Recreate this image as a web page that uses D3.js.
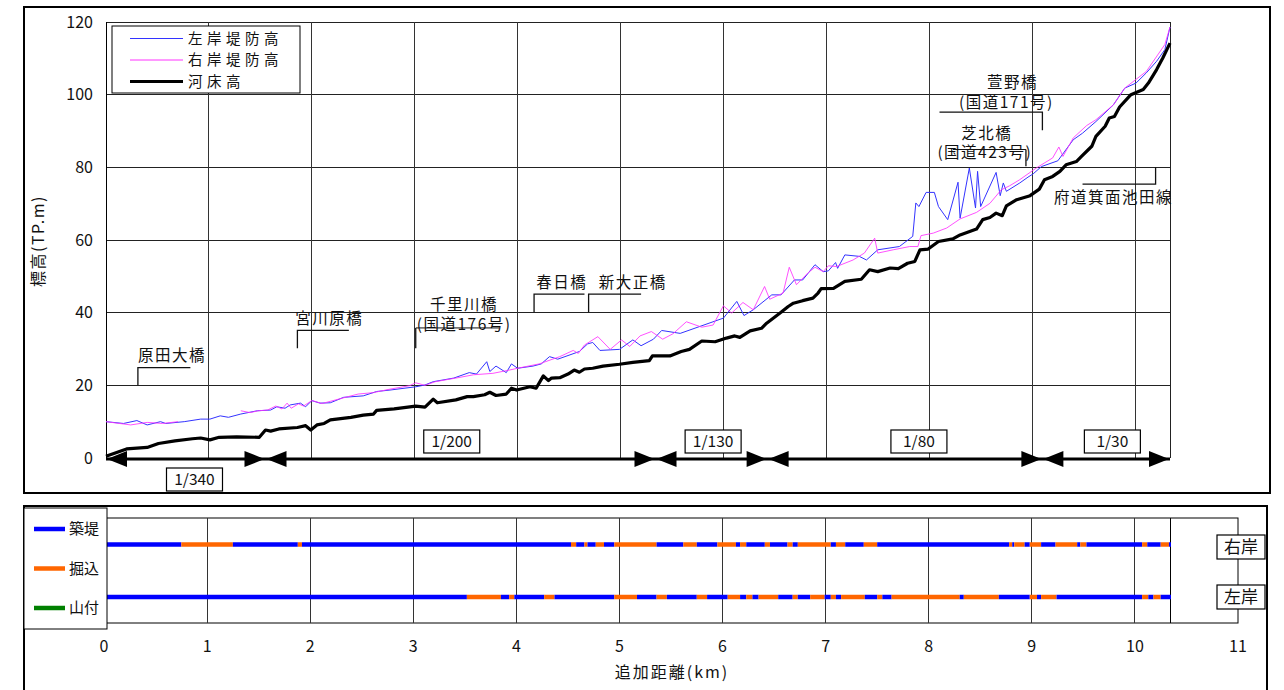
<!DOCTYPE html>
<html><head><meta charset="utf-8">
<script src="https://cdn.jsdelivr.net/npm/d3@7"></script>
<style>
html,body{margin:0;padding:0;background:#fff;}
text{font-family:"Noto Sans CJK JP","Noto Sans",sans-serif;fill:#111;}
</style></head>
<body>
<svg id="c" width="1284" height="690"></svg>
<script>
// ---------------- DATA ----------------
const riverbed = [[0,0.5],[0.2,2.5],[0.4,2.9],[0.51,4.0],[0.67,4.7],[0.84,5.3],[0.92,5.5],[1.01,5.0],[1.1,5.7],[1.27,5.8],[1.49,5.7],[1.55,7.7],[1.6,7.4],[1.68,8.0],[1.86,8.4],[1.94,8.9],[1.99,7.7],[2.05,9.1],[2.12,9.5],[2.18,10.5],[2.38,11.2],[2.5,11.8],[2.6,12.1],[2.63,13.1],[2.8,13.5],[3.01,14.3],[3.1,14.0],[3.18,16.2],[3.22,15.2],[3.4,16.0],[3.51,16.9],[3.57,16.9],[3.68,17.4],[3.73,18.1],[3.79,17.2],[3.89,17.6],[3.94,19.2],[3.99,18.7],[4.12,19.6],[4.18,19.2],[4.25,22.6],[4.3,21.3],[4.33,22.0],[4.41,22.1],[4.49,23.1],[4.55,24.2],[4.6,23.6],[4.65,24.5],[4.73,24.7],[4.83,25.3],[4.99,25.8],[5.12,26.3],[5.28,26.8],[5.31,28.1],[5.48,28.1],[5.59,29.3],[5.67,29.9],[5.79,32.2],[5.92,32.0],[6.03,33.0],[6.11,33.6],[6.16,33.2],[6.26,35.0],[6.37,35.7],[6.42,37.1],[6.56,40.1],[6.63,41.7],[6.68,42.6],[6.77,43.3],[6.87,44.0],[6.92,45.4],[6.95,46.6],[7.07,46.7],[7.18,48.6],[7.34,49.2],[7.42,51.8],[7.5,51.3],[7.62,52.3],[7.7,52.1],[7.79,53.6],[7.86,54.1],[7.91,57.3],[7.99,57.5],[8.09,59.6],[8.23,60.3],[8.3,61.4],[8.38,62.2],[8.46,63.0],[8.52,65.6],[8.59,66.2],[8.65,67.4],[8.71,66.7],[8.75,69.4],[8.85,71.1],[8.98,72.2],[9.07,74.0],[9.12,76.6],[9.2,77.5],[9.27,78.9],[9.33,80.7],[9.43,81.6],[9.48,83.0],[9.58,85.8],[9.62,88.5],[9.71,91.3],[9.75,93.6],[9.8,94.0],[9.85,96.6],[9.96,100.0],[10.08,101.4],[10.13,103.2],[10.21,106.9],[10.27,110.1],[10.34,114.2]];

const leftLevee = [[0,10.0],[0.17,9.5],[0.3,10.3],[0.4,9.1],[0.53,10.0],[0.58,9.5],[0.76,10.0],[0.92,10.7],[1.01,10.7],[1.11,11.6],[1.19,11.2],[1.31,12.1],[1.47,13.0],[1.6,13.2],[1.66,14.1],[1.74,13.7],[1.79,14.6],[1.89,15.1],[1.94,14.1],[2.0,15.8],[2.08,15.1],[2.18,15.2],[2.31,16.7],[2.5,17.1],[2.63,18.3],[2.76,18.7],[3.01,19.6],[3.1,20.1],[3.18,21.0],[3.38,22.0],[3.53,23.5],[3.6,23.1],[3.7,26.5],[3.73,23.8],[3.79,25.3],[3.89,23.5],[3.94,25.9],[4.0,24.7],[4.15,25.3],[4.23,25.9],[4.31,27.9],[4.39,27.2],[4.6,29.3],[4.68,31.4],[4.73,31.8],[4.8,29.6],[4.99,29.9],[5.12,32.5],[5.2,30.9],[5.32,32.7],[5.4,35.1],[5.58,34.3],[6.0,38.5],[6.13,43.1],[6.2,39.2],[6.29,40.8],[6.47,44.9],[6.56,44.9],[6.69,49.0],[6.77,49.0],[6.89,53.2],[6.97,51.3],[7.02,51.5],[7.09,53.8],[7.11,52.2],[7.18,55.9],[7.32,55.5],[7.39,54.5],[7.5,57.3],[7.71,58.2],[7.84,61.0],[7.87,70.2],[7.9,69.2],[7.97,73.1],[8.05,73.1],[8.09,69.2],[8.18,65.6],[8.28,75.9],[8.3,66.0],[8.39,79.8],[8.45,68.8],[8.47,78.9],[8.5,69.2],[8.65,78.6],[8.69,72.2],[8.72,75.7],[8.75,73.4],[8.88,75.7],[8.96,77.3],[9.01,78.2],[9.09,80.2],[9.25,81.8],[9.4,87.6],[9.49,89.4],[9.62,92.6],[9.79,97.2],[9.9,101.8],[10.01,103.2],[10.11,106.0],[10.21,109.2],[10.29,112.4],[10.34,118.6]];

const rightLevee = [[0,10.0],[0.24,9.1],[0.4,9.8],[0.55,9.5],[0.7,10.0],[0.72,null],[1.31,13.0],[1.4,12.5],[1.48,13.0],[1.57,13.2],[1.65,14.3],[1.71,13.5],[1.76,15.1],[1.8,13.7],[1.87,14.9],[1.92,14.3],[2.0,15.8],[2.1,15.0],[2.3,16.5],[2.45,17.6],[2.6,18.0],[2.75,18.9],[2.95,19.9],[3.01,20.7],[3.1,20.0],[3.2,21.0],[3.44,22.2],[3.57,22.9],[3.76,23.3],[3.92,24.2],[4.0,24.7],[4.21,25.9],[4.41,27.9],[4.54,29.6],[4.59,28.8],[4.65,31.1],[4.78,33.4],[4.9,29.9],[5.01,32.5],[5.09,30.7],[5.19,33.6],[5.3,34.8],[5.41,32.7],[5.51,34.2],[5.64,37.5],[5.79,36.0],[5.9,36.6],[6.0,41.9],[6.08,39.9],[6.19,42.8],[6.29,40.8],[6.4,47.2],[6.45,43.7],[6.58,45.4],[6.64,52.5],[6.71,47.7],[6.82,50.9],[6.89,52.5],[6.97,51.3],[7.02,52.9],[7.1,52.7],[7.26,54.5],[7.37,56.4],[7.47,60.5],[7.5,56.4],[7.65,57.3],[7.81,58.2],[7.89,58.2],[7.92,61.2],[8.04,61.9],[8.17,63.3],[8.3,65.8],[8.46,67.6],[8.59,70.1],[8.7,73.8],[8.78,74.9],[8.88,76.6],[9.04,79.8],[9.2,82.6],[9.26,85.6],[9.3,83.0],[9.4,88.1],[9.53,91.5],[9.62,93.1],[9.79,97.2],[9.9,101.8],[10.11,106.4],[10.29,113.8],[10.34,118.6]];

const seriesNames = ["左岸堤防高","右岸堤防高","河床高"];
const yTicks = [0,20,40,60,80,100,120];
const xTicks = [0,1,2,3,4,5,6,7,8,9,10,11];

const bridgeNames = ["原田大橋","宮川原橋","千里川橋","春日橋","新大正橋","芝北橋","萱野橋","府道箕面池田線"];
const bridgeSub = ["","","(国道176号)","","","(国道423号)","(国道171号)",""];

const gradientBreaks = [0,1.55,5.34,6.43,9.1,10.34];
const gradientLabels = ["1/340","1/200","1/130","1/80","1/30"];

const typeNames = ["築堤","掘込","山付"];
const rightBounds = [0,0.75,1.25,1.88,1.92,4.53,4.58,4.66,4.69,4.77,4.85,4.95,5.36,5.62,5.75,5.95,6.13,6.17,6.23,6.41,6.46,6.63,6.68,6.73,7.05,7.10,7.19,7.37,7.50,8.78,8.81,8.83,8.93,8.98,9.09,9.23,9.44,9.47,9.53,10.07,10.12,10.25,10.33,10.35];
const rightTypes  = ["築堤","掘込","築堤","掘込","築堤","掘込","築堤","掘込","築堤","掘込","築堤","掘込","築堤","掘込","築堤","掘込","築堤","掘込","築堤","掘込","築堤","掘込","築堤","掘込","築堤","掘込","築堤","掘込","築堤","掘込","築堤","掘込","築堤","掘込","築堤","掘込","築堤","掘込","築堤","掘込","築堤","掘込","築堤"];
const leftBounds = [0,3.52,3.85,3.93,3.98,4.27,4.37,4.95,5.17,5.36,5.46,5.75,5.85,6.05,6.17,6.23,6.29,6.35,6.54,6.68,6.73,6.85,6.99,7.05,7.10,7.15,7.38,7.50,7.55,7.64,8.30,8.34,8.68,8.98,9.05,9.09,9.24,10.07,10.13,10.18,10.25,10.35];
const leftTypes  = ["築堤","掘込","築堤","掘込","築堤","掘込","築堤","掘込","築堤","掘込","築堤","掘込","築堤","掘込","築堤","掘込","築堤","掘込","築堤","掘込","築堤","掘込","築堤","掘込","築堤","掘込","築堤","掘込","築堤","掘込","築堤","掘込","築堤","掘込","築堤","掘込","築堤","掘込","築堤","掘込","築堤"];

// ---------------- DRAW ----------------
const svg = d3.select("#c");
const x = d3.scaleLinear().domain([0,10.34]).range([106,1170]);
const y = d3.scaleLinear().domain([0,120]).range([458,22]);
const xb = d3.scaleLinear().domain([0,11]).range([104,1238]);
const typeColor = d3.scaleOrdinal().domain(typeNames).range(["#0000ff","#ff6600","#008000"]);
const seriesColor = d3.scaleOrdinal().domain(seriesNames).range(["#3333ff","#ff33ff","#000000"]);

// outer frames
svg.append("rect").attr("x",24).attr("y",7).attr("width",1246).attr("height",486).attr("fill","none").attr("stroke","#000").attr("stroke-width",2);
svg.append("rect").attr("x",24).attr("y",506).attr("width",1243).attr("height",190).attr("fill","none").attr("stroke","#000").attr("stroke-width",2);

// top grid
const g = svg.append("g");
g.selectAll("line.h").data(yTicks).join("line")
  .attr("x1",x(0)).attr("x2",x(10.34)).attr("y1",d=>y(d)).attr("y2",d=>y(d))
  .attr("stroke","#222").attr("stroke-width",1).attr("shape-rendering","crispEdges");
g.selectAll("line.v").data(d3.range(0,11)).join("line")
  .attr("x1",d=>x(d)).attr("x2",d=>x(d)).attr("y1",y(0)).attr("y2",y(120))
  .attr("stroke",d=>d===0?"#000":"#333").attr("stroke-width",1).attr("shape-rendering","crispEdges");
g.append("line").attr("x1",x(10.34)).attr("x2",x(10.34)).attr("y1",y(0)).attr("y2",y(120)).attr("stroke","#222").attr("shape-rendering","crispEdges");

// y axis labels
g.selectAll("text.yt").data(yTicks).join("text")
  .attr("x",93).attr("y",d=>y(d)).attr("dy","0.35em").attr("text-anchor","end")
  .style("font-size","16px").text(d=>d);
svg.append("text").attr("transform","translate(44,241) rotate(-90)").attr("text-anchor","middle")
  .style("font-size","16px").style("letter-spacing","1.5px").text("標高(TP.m)");

// series
const line = d3.line().defined(d=>d[1]!==null).x(d=>x(d[0])).y(d=>y(d[1]));
g.append("path").datum(leftLevee).attr("d",line).attr("fill","none").attr("stroke",seriesColor("左岸堤防高")).attr("stroke-width",1);
g.append("path").datum(rightLevee).attr("d",line).attr("fill","none").attr("stroke",seriesColor("右岸堤防高")).attr("stroke-width",1).attr("stroke-opacity",0.85);
g.append("path").datum(riverbed).attr("d",line).attr("fill","none").attr("stroke","#000").attr("stroke-width",3.2).attr("stroke-linejoin","round");

// legend top
const lg = svg.append("g");
lg.append("rect").attr("x",112).attr("y",26).attr("width",188).attr("height",67).attr("fill","#fff").attr("stroke","#000").attr("stroke-width",1);
seriesNames.forEach((n,i)=>{
  const yy = 38.5 + i*21.5;
  lg.append("line").attr("x1",130).attr("x2",183).attr("y1",yy).attr("y2",yy)
    .attr("stroke",seriesColor(n)).attr("stroke-width",i===2?3:1);
  lg.append("text").attr("x",188).attr("y",yy).attr("dy","0.36em")
    .style("font-size","14.5px").style("letter-spacing","4.5px").text(n);
});

// bridge annotations
const ann = svg.append("g").attr("stroke","#111").attr("fill","none").attr("stroke-width",1.3);
function leader(pts){ ann.append("path").attr("d",d3.line().x(p=>x(p[0])).y(p=>y(p[1]))(pts)); }
function label(km,v,t,anchor){
  svg.append("text").attr("x",x(km)).attr("y",y(v)).attr("text-anchor",anchor||"start")
    .style("font-size","15.5px").style("letter-spacing","1.5px").text(t);
}
function underline(k1,k2,v){
  svg.append("line").attr("x1",x(k1)).attr("x2",x(k2)).attr("y1",y(v)).attr("y2",y(v)).attr("stroke","#111").attr("stroke-width",1);
}
// 原田大橋
leader([[0.31,20],[0.31,24.9],[0.82,24.9]]); label(0.31,26.6,bridgeNames[0]);
// 宮川原橋
leader([[1.86,30.2],[1.86,35.1],[2.36,35.1]]); label(1.84,36.8,bridgeNames[1]);
// 千里川橋
leader([[3.01,30.2],[3.01,35.8]]);
label(3.48,40.6,bridgeNames[2],"middle"); label(3.48,35.2,bridgeSub[2],"middle");
underline(3.01,3.82,35.8);
// 春日橋 / 新大正橋
leader([[4.16,40.1],[4.16,45.1],[4.65,45.1]]); label(4.43,46.9,bridgeNames[3],"middle");
leader([[4.69,40.1],[4.69,45.1],[5.2,45.1]]); label(5.12,46.9,bridgeNames[4],"middle");
// 芝北橋
leader([[8.94,80.3],[8.94,84.9]]);
label(8.56,87.9,bridgeNames[5],"middle"); label(8.54,82.5,bridgeSub[5],"middle");
underline(8.23,8.94,84.9);
// 萱野橋
leader([[8.1,95.2],[9.1,95.2],[9.1,90.2]]);
label(8.81,101.8,bridgeNames[6],"middle"); label(8.75,96.4,bridgeSub[6],"middle");
// 府道箕面池田線
leader([[9.49,75.4],[10.2,75.4],[10.2,80.1]]);
label(9.79,70.1,bridgeNames[7],"middle");

// gradient arrows
const ar = svg.append("g");
const ay = y(0)+1;
ar.append("line").attr("x1",x(0)).attr("x2",x(10.34)).attr("y1",ay).attr("y2",ay).attr("stroke","#000").attr("stroke-width",3);
const labelKm = [0.86,3.36,5.9,7.9,9.78];
gradientLabels.forEach((t,i)=>{
  const a = x(gradientBreaks[i]), b = x(gradientBreaks[i+1]);
  ar.append("path").attr("d",`M${a+1},${ay} L${a+21},${ay-8} L${a+21},${ay+8} Z`).attr("fill","#000");
  ar.append("path").attr("d",`M${b-1},${ay} L${b-21},${ay-8} L${b-21},${ay+8} Z`).attr("fill","#000");
  const cx = x(labelKm[i]);
  const cy = i===0 ? 479 : 441;
  ar.append("rect").attr("x",cx-28).attr("y",cy-11).attr("width",56).attr("height",23).attr("fill","#fff").attr("stroke","#000").attr("stroke-width",1.2);
  ar.append("text").attr("x",cx).attr("y",cy).attr("dy","0.36em").attr("text-anchor","middle").style("font-size","15.5px").text(t);
});

// ---------------- bottom panel ----------------
const bg = svg.append("g");
bg.append("rect").attr("x",xb(0)).attr("y",518).attr("width",xb(11)-xb(0)).attr("height",105).attr("fill","none").attr("stroke","#000").attr("stroke-width",1);
bg.selectAll("line.v").data(d3.range(1,11)).join("line")
  .attr("x1",d=>xb(d)).attr("x2",d=>xb(d)).attr("y1",518).attr("y2",623).attr("stroke","#333").attr("shape-rendering","crispEdges");
bg.append("line").attr("x1",xb(10.35)).attr("x2",xb(10.35)).attr("y1",518).attr("y2",623).attr("stroke","#000").attr("shape-rendering","crispEdges");

function bank(bounds,types,yy){
  const segs = types.map((t,i)=>({a:bounds[i],b:bounds[i+1],t}));
  bg.append("g").selectAll("line").data(segs).join("line")
    .attr("x1",d=>xb(d.a)).attr("x2",d=>xb(d.b)).attr("y1",yy).attr("y2",yy)
    .attr("stroke",d=>typeColor(d.t)).attr("stroke-width",4.5);
}
bank(rightBounds,rightTypes,544.5);
bank(leftBounds,leftTypes,597);

bg.selectAll("text.xt").data(xTicks).join("text")
  .attr("x",d=>xb(d)).attr("y",646).attr("text-anchor","middle").attr("dy","0.35em").style("font-size","16px").text(d=>d);
svg.append("text").attr("x",672).attr("y",672).attr("text-anchor","middle").attr("dy","0.35em")
  .style("font-size","16px").style("letter-spacing","2px").text("追加距離(km)");

// bank labels
[["右岸",547],["左岸",597]].forEach(([t,cy])=>{
  bg.append("rect").attr("x",1217).attr("y",cy-12).attr("width",48).attr("height",24).attr("fill","#fff").attr("stroke","#000").attr("stroke-width",1.2);
  bg.append("text").attr("x",1241).attr("y",cy).attr("dy","0.36em").attr("text-anchor","middle").style("font-size","17px").text(t);
});

// bottom legend
const bl = svg.append("g");
bl.append("rect").attr("x",24).attr("y",508).attr("width",83).attr("height",121).attr("fill","#fff").attr("stroke","#000").attr("stroke-width",1);
typeNames.forEach((n,i)=>{
  const yy = 529 + i*39.5;
  bl.append("line").attr("x1",34).attr("x2",65).attr("y1",yy).attr("y2",yy).attr("stroke",typeColor(n)).attr("stroke-width",4.5);
  bl.append("text").attr("x",69).attr("y",yy).attr("dy","0.36em").style("font-size","15px").text(n);
});
</script>
</body></html>
